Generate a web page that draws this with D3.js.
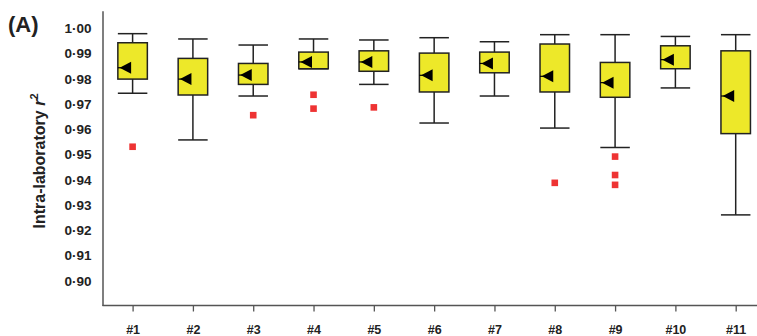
<!DOCTYPE html>
<html lang="en">
  <head>
    <meta charset="UTF-8" />
    <title>Intra-laboratory r2</title>
    <style>
      * {
        margin: 0;
        padding: 0;
      }
      body {
        background-color: #fff;
      }
      text {
        font-family: "Liberation Sans", Arial, sans-serif;
        font-weight: bold;
        fill: #222;
      }
    </style>
  </head>
  <body>
    <script src="https://cdn.jsdelivr.net/npm/d3@7/dist/d3.min.js"></script>
    <script>
      const labs = ["#1", "#2", "#3", "#4", "#5", "#6", "#7", "#8", "#9", "#10", "#11"];
      const whiskerHigh = [0.9979, 0.9958, 0.9934, 0.9958, 0.9954, 0.9963, 0.9947, 0.9975, 0.9975, 0.9968, 0.9975];
      const q3 = [0.9943, 0.9881, 0.9861, 0.9906, 0.9911, 0.9902, 0.9906, 0.9938, 0.9865, 0.9931, 0.9911];
      const q1 = [0.9799, 0.9736, 0.9778, 0.984, 0.983, 0.9748, 0.9824, 0.9748, 0.9727, 0.984, 0.9583];
      const whiskerLow = [0.9743, 0.9558, 0.9732, 0.984, 0.9778, 0.9625, 0.9732, 0.9605, 0.9528, 0.9764, 0.9261];
      const means = [0.9844, 0.9799, 0.9815, 0.9867, 0.9867, 0.9814, 0.9861, 0.981, 0.9785, 0.9876, 0.9732];
      const outliers = [
        ["#1", 0.9531],
        ["#3", 0.9656],
        ["#4", 0.9737],
        ["#4", 0.9682],
        ["#5", 0.9687],
        ["#8", 0.9388],
        ["#9", 0.9492],
        ["#9", 0.9419],
        ["#9", 0.938],
      ];
      const yTicks = [0.9, 0.91, 0.92, 0.93, 0.94, 0.95, 0.96, 0.97, 0.98, 0.99, 1.0];

      const W = 757,
        H = 336;
      const axisX = 102.5,
        axisY = 305.5;
      const svg = d3.select("body").append("svg").attr("width", W).attr("height", H);

      const x = d3.scalePoint().domain(labs).range([132.6, 735.7]);
      const y = d3.scaleLinear().domain([0.8902, 1.007]).range([axisY, 10.7]);

      const boxes = labs.map((lab, i) => ({
        lab,
        hi: whiskerHigh[i],
        q3: q3[i],
        q1: q1[i],
        lo: whiskerLow[i],
        mean: means[i],
      }));

      // y axis
      const yAxis = svg
        .append("g")
        .attr("transform", `translate(${axisX},0)`)
        .call(
          d3
            .axisLeft(y)
            .tickValues(yTicks)
            .tickSize(0)
            .tickSizeOuter(0)
            .tickPadding(11)
            .tickFormat((d) => d3.format(".2f")(d).replace(".", "·"))
        );
      yAxis.select(".domain").attr("stroke", "#555").attr("stroke-width", 1.5);
      yAxis.selectAll("text").attr("font-size", 13.5).attr("fill", "#222");

      // x axis
      const xAxis = svg
        .append("g")
        .attr("transform", `translate(0,${axisY})`)
        .call(d3.axisBottom(x).tickSize(6).tickSizeOuter(0).tickPadding(14));
      xAxis.select(".domain").remove();
      xAxis.selectAll(".tick line").attr("stroke", "#555").attr("stroke-width", 1.3);
      xAxis.selectAll("text").attr("font-size", 12.5).attr("fill", "#222");
      svg
        .append("line")
        .attr("x1", axisX)
        .attr("x2", W)
        .attr("y1", axisY)
        .attr("y2", axisY)
        .attr("stroke", "#555")
        .attr("stroke-width", 1.5);

      const bw = 29.5;
      const g = svg.selectAll("g.box").data(boxes).enter().append("g").classed("box", true);

      // whiskers
      g.append("line")
        .attr("x1", (d) => x(d.lab))
        .attr("x2", (d) => x(d.lab))
        .attr("y1", (d) => y(d.hi))
        .attr("y2", (d) => y(d.lo))
        .attr("stroke", "#222")
        .attr("stroke-width", 1.5);
      g.append("line")
        .attr("x1", (d) => x(d.lab) - bw / 2)
        .attr("x2", (d) => x(d.lab) + bw / 2)
        .attr("y1", (d) => y(d.hi))
        .attr("y2", (d) => y(d.hi))
        .attr("stroke", "#222")
        .attr("stroke-width", 1.5);
      g.append("line")
        .attr("x1", (d) => x(d.lab) - bw / 2)
        .attr("x2", (d) => x(d.lab) + bw / 2)
        .attr("y1", (d) => y(d.lo))
        .attr("y2", (d) => y(d.lo))
        .attr("stroke", "#222")
        .attr("stroke-width", 1.5);

      // box
      g.append("rect")
        .attr("x", (d) => x(d.lab) - bw / 2)
        .attr("y", (d) => y(d.q3))
        .attr("width", bw)
        .attr("height", (d) => y(d.q1) - y(d.q3))
        .attr("fill", "#ede829")
        .attr("stroke", "#222")
        .attr("stroke-width", 1.5);

      // mean marker
      g.append("line")
        .attr("x1", (d) => x(d.lab) - bw / 2)
        .attr("x2", (d) => x(d.lab) - 10)
        .attr("y1", (d) => y(d.mean))
        .attr("y2", (d) => y(d.mean))
        .attr("stroke", "#000")
        .attr("stroke-width", 1.2);
      g.append("path")
        .attr("d", (d) => {
          const cx = x(d.lab),
            cy = y(d.mean);
          return `M${cx - 13},${cy}L${cx - 1.5},${cy - 6}L${cx - 1.5},${cy + 6}Z`;
        })
        .attr("fill", "#000");

      // outliers
      svg
        .selectAll("rect.out")
        .data(outliers)
        .enter()
        .append("rect")
        .classed("out", true)
        .attr("x", (d) => x(d[0]) - 3.3)
        .attr("y", (d) => y(d[1]) - 3.3)
        .attr("width", 6.6)
        .attr("height", 6.6)
        .attr("fill", "#ee3333");

      // labels
      svg.append("text").attr("x", 8).attr("y", 32).attr("font-size", 22).text("(A)");
      const yl = svg
        .append("text")
        .attr("transform", "translate(45,161) rotate(-90)")
        .attr("text-anchor", "middle")
        .attr("font-size", 16);
      yl.append("tspan").text("Intra-laboratory ");
      yl.append("tspan").attr("font-style", "italic").text("r");
      yl.append("tspan").attr("font-size", 11).attr("dy", -7).text("2");
    </script>
  </body>
</html>
